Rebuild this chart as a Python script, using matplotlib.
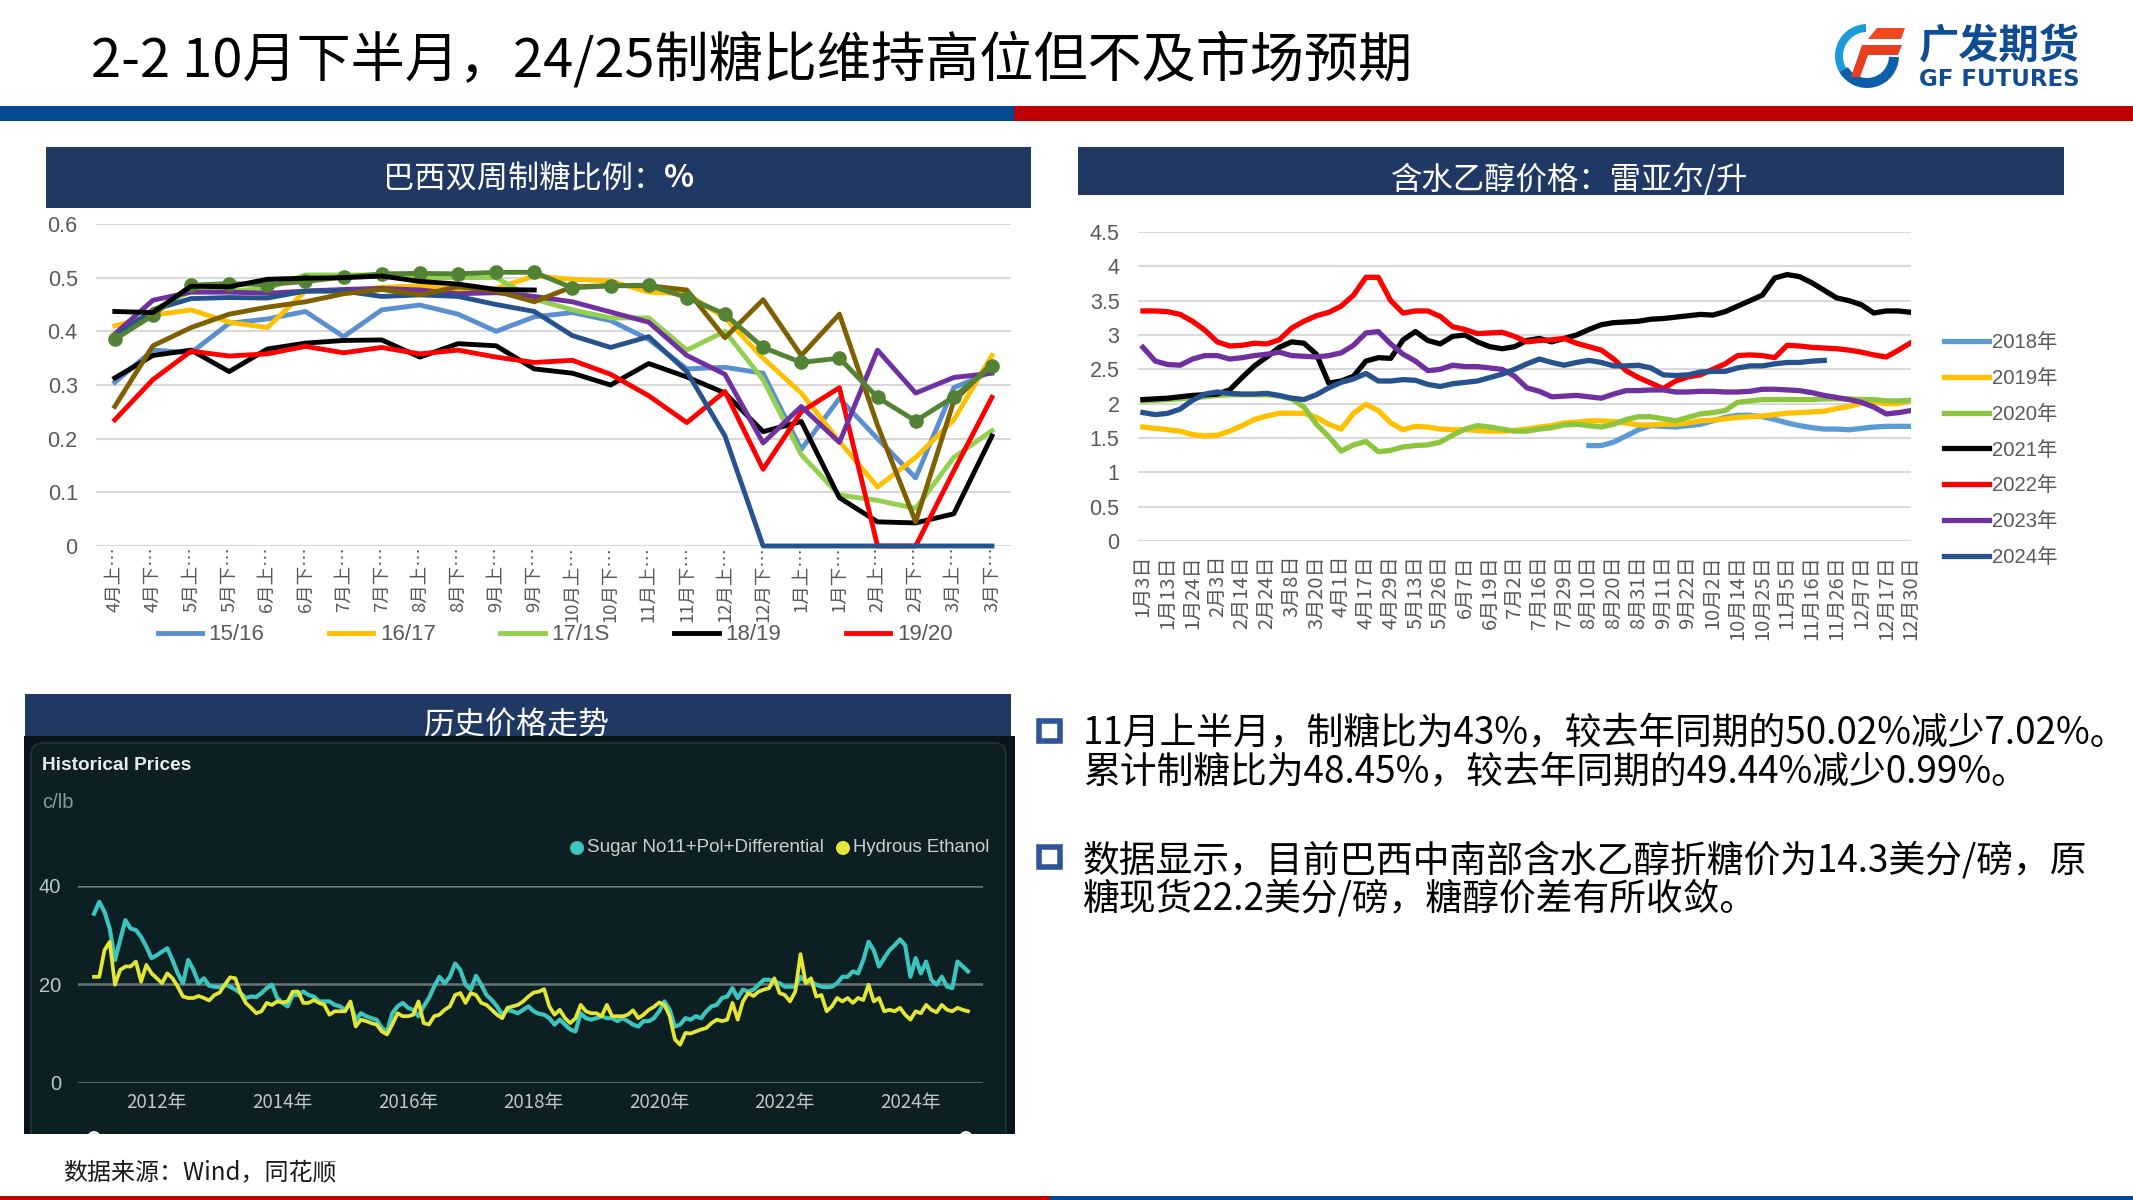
import numpy as np
import matplotlib
matplotlib.use('Agg')
import matplotlib.pyplot as plt
from matplotlib.patches import Rectangle, Wedge, Polygon, FancyBboxPatch, Circle

plt.rcParams['font.family'] = ['Noto Sans CJK SC', 'DejaVu Sans']

W, H = 2133, 1200
nan = float('nan')

# 巴西双周制糖比例
half_months = ['4月上…', '4月下…', '5月上…', '5月下…', '6月上…', '6月下…', '7月上…', '7月下…',
               '8月上…', '8月下…', '9月上…', '9月下…', '10月上…', '10月下…', '11月上…', '11月下…',
               '12月上…', '12月下…', '1月上…', '1月下…', '2月上…', '2月下…', '3月上…', '3月下…']
r1516 = [0.305, 0.365, 0.36, 0.415, 0.423, 0.437, 0.39, 0.44, 0.449, 0.432, 0.40, 0.427,
         0.435, 0.42, 0.385, 0.33, 0.333, 0.322, 0.18, 0.275, 0.20, 0.127, 0.295, 0.325]
r1617 = [0.41, 0.43, 0.44, 0.417, 0.407, 0.475, 0.475, 0.482, 0.485, 0.477, 0.48, 0.503,
         0.497, 0.494, 0.473, 0.47, 0.425, 0.35, 0.285, 0.195, 0.11, 0.165, 0.235, 0.355]
r1718 = [0.385, 0.44, 0.475, 0.475, 0.48, 0.505, 0.505, 0.505, 0.50, 0.50, 0.50, 0.46,
         0.44, 0.425, 0.425, 0.365, 0.40, 0.31, 0.17, 0.095, 0.085, 0.07, 0.165, 0.215]
r1819 = [0.313, 0.355, 0.365, 0.325, 0.367, 0.378, 0.383, 0.384, 0.352, 0.377, 0.373, 0.33,
         0.322, 0.30, 0.34, 0.315, 0.285, 0.213, 0.232, 0.09, 0.045, 0.043, 0.06, 0.205]
r1920 = [0.235, 0.31, 0.363, 0.354, 0.358, 0.372, 0.36, 0.37, 0.358, 0.365, 0.352, 0.342,
         0.346, 0.32, 0.28, 0.23, 0.288, 0.143, 0.25, 0.295, 0, 0, 0.14, 0.277]
r2021 = [0.395, 0.458, 0.473, 0.473, 0.471, 0.475, 0.478, 0.48, 0.477, 0.47, 0.472, 0.465,
         0.455, 0.436, 0.417, 0.355, 0.32, 0.192, 0.26, 0.193, 0.365, 0.285, 0.314, 0.322]
r2122 = [0.39, 0.44, 0.461, 0.463, 0.462, 0.475, 0.475, 0.465, 0.468, 0.465, 0.45, 0.437,
         0.392, 0.37, 0.39, 0.325, 0.205, 0, 0, 0, 0, 0, 0, 0]
r2223 = [0.26, 0.373, 0.407, 0.432, 0.445, 0.455, 0.47, 0.478, 0.468, 0.483, 0.475, 0.455,
         0.483, 0.485, 0.485, 0.477, 0.388, 0.459, 0.355, 0.432, 0.225, 0.045, 0.27, 0.34]
r2324 = [0.385, 0.43, 0.486, 0.489, 0.487, 0.493, 0.501, 0.507, 0.508, 0.507, 0.51, 0.51,
         0.481, 0.485, 0.486, 0.463, 0.432, 0.37, 0.342, 0.35, 0.277, 0.233, 0.278, 0.335]
r2425 = [0.437, 0.435, 0.484, 0.483, 0.497, 0.499, 0.5, 0.503, 0.493, 0.488, 0.478, 0.477]

# 含水乙醇价格
eth_labels = ['1月3日', '1月13日', '1月24日', '2月3日', '2月14日', '2月24日', '3月8日', '3月20日',
              '4月1日', '4月17日', '4月29日', '5月13日', '5月26日', '6月7日', '6月19日', '7月2日',
              '7月16日', '7月29日', '8月10日', '8月20日', '8月31日', '9月11日', '9月22日', '10月2日',
              '10月14日', '10月25日', '11月5日', '11月16日', '11月26日', '12月7日', '12月17日', '12月30日']
e2018 = [nan, nan, nan, nan, nan, nan, nan, nan, nan, nan,
         nan, nan, nan, nan, nan, nan, nan, nan, nan, nan,
         nan, nan, nan, nan, nan, nan, nan, nan, nan, nan,
         nan, nan, nan, nan, nan, nan, 1.39, 1.39, 1.44, 1.53,
         1.62, 1.68, 1.67, 1.66, 1.68, 1.7, 1.75, 1.8, 1.83, 1.83,
         1.81, 1.77, 1.72, 1.68, 1.65, 1.63, 1.63, 1.62, 1.64, 1.66,
         1.67, 1.67, 1.67]
e2019 = [1.66, 1.64, 1.62, 1.6, 1.55, 1.53, 1.54, 1.6, 1.68, 1.77,
         1.82, 1.86, 1.86, 1.86, 1.8, 1.7, 1.63, 1.86, 1.99, 1.9,
         1.72, 1.62, 1.67, 1.66, 1.63, 1.62, 1.62, 1.61, 1.6, 1.6,
         1.61, 1.63, 1.66, 1.68, 1.72, 1.73, 1.75, 1.75, 1.74, 1.72,
         1.69, 1.69, 1.7, 1.7, 1.72, 1.75, 1.76, 1.78, 1.8, 1.81,
         1.82, 1.84, 1.86, 1.87, 1.88, 1.89, 1.93, 1.96, 2.01, 2.02,
         2.0, 2.0, 2.05]
e2020 = [2.04, 2.05, 2.06, 2.07, 2.09, 2.1, 2.12, 2.13, 2.13, 2.13,
         2.13, 2.11, 2.07, 1.95, 1.7, 1.52, 1.31, 1.4, 1.45, 1.3,
         1.32, 1.37, 1.39, 1.4, 1.44, 1.54, 1.63, 1.68, 1.66, 1.63,
         1.6, 1.6, 1.63, 1.65, 1.69, 1.7, 1.68, 1.66, 1.7, 1.77,
         1.81, 1.81, 1.78, 1.75, 1.8, 1.85, 1.87, 1.9, 2.02, 2.04,
         2.06, 2.06, 2.06, 2.06, 2.06, 2.07, 2.07, 2.07, 2.06, 2.06,
         2.04, 2.04, 2.05]
e2021 = [2.06, 2.07, 2.08, 2.1, 2.12, 2.13, 2.14, 2.2, 2.38, 2.55,
         2.68, 2.82, 2.9, 2.88, 2.72, 2.3, 2.33, 2.4, 2.62, 2.67,
         2.66, 2.93, 3.05, 2.92, 2.87, 2.98, 3.0, 2.9, 2.83, 2.8,
         2.83, 2.92, 2.95, 2.9, 2.95, 3.0, 3.08, 3.15, 3.18, 3.19,
         3.2, 3.23, 3.24, 3.26, 3.28, 3.3, 3.29, 3.34, 3.42, 3.5,
         3.58, 3.83, 3.88, 3.85, 3.76, 3.65, 3.54, 3.5, 3.44, 3.32,
         3.35, 3.35, 3.33]
e2022 = [3.35, 3.35, 3.34, 3.3, 3.2, 3.07, 2.9, 2.84, 2.85, 2.88,
         2.87, 2.93, 3.1, 3.2, 3.28, 3.33, 3.42, 3.58, 3.84, 3.84,
         3.5, 3.32, 3.35, 3.35, 3.27, 3.12, 3.08, 3.02, 3.03, 3.04,
         2.98, 2.9, 2.92, 2.93, 2.95, 2.88, 2.83, 2.78, 2.65, 2.48,
         2.38, 2.3, 2.22, 2.33, 2.39, 2.42, 2.5, 2.58, 2.7, 2.71,
         2.7, 2.67, 2.85, 2.84, 2.82, 2.81, 2.8, 2.78, 2.75, 2.71,
         2.68, 2.78, 2.89]
e2023 = [2.82, 2.62, 2.57, 2.56, 2.65, 2.7, 2.7, 2.65, 2.67, 2.7,
         2.72, 2.75, 2.7, 2.69, 2.68, 2.7, 2.74, 2.85, 3.03, 3.05,
         2.87, 2.72, 2.62, 2.48, 2.5, 2.56, 2.54, 2.54, 2.52, 2.5,
         2.4, 2.23, 2.18, 2.1, 2.11, 2.12, 2.1, 2.08, 2.14, 2.19,
         2.19, 2.2, 2.2, 2.17, 2.17, 2.18, 2.18, 2.17, 2.17, 2.18,
         2.21, 2.21, 2.2, 2.19, 2.16, 2.12, 2.09, 2.06, 2.02, 1.95,
         1.85, 1.87, 1.9]
e2024 = [1.87, 1.84, 1.86, 1.92, 2.05, 2.14, 2.17, 2.15, 2.14, 2.14,
         2.15, 2.12, 2.08, 2.06, 2.13, 2.23, 2.31, 2.36, 2.44, 2.33,
         2.33, 2.35, 2.34, 2.28, 2.25, 2.29, 2.31, 2.33, 2.38, 2.43,
         2.5, 2.58, 2.65, 2.6, 2.56, 2.6, 2.63, 2.6, 2.55, 2.55,
         2.56, 2.52, 2.42, 2.41, 2.42, 2.46, 2.47, 2.47, 2.52, 2.55,
         2.55, 2.58, 2.6, 2.6, 2.62, 2.63, nan, nan, nan, nan,
         nan, nan, nan]

# 历史价格走势, 月度读数 2011-2024
sugar = [34.3, 36.7, 34.7, 31.3, 24.9, 29, 33, 31.3, 31, 29.6, 27.6, 25.3,
         25.9, 26.6, 27.3, 24.9, 22.2, 20.2, 24.9, 22.9, 20.2, 21.2, 19.7, 19.5,
         19.4, 19.9, 19.5, 18.9, 18.2, 17.2, 17.5, 17.4, 18.2, 19.2, 19.9, 17.2,
         16.2, 15.5, 17.8, 17.8, 18.5, 17.8, 17.5, 16.5, 16.5, 16.5, 15.8, 15.5,
         14.8, 16.2, 12.8, 14.1, 13.5, 13.1, 12.8, 11.1, 10.4, 14.1, 15.5, 16.2,
         15.2, 14.8, 13.5, 15.5, 17.2, 19.5, 21.5, 20.2, 21.5, 24.2, 22.9, 19.9,
         18.9, 21.7, 19.9, 17.8, 16.8, 15.5, 13.8, 14.8, 14.5, 14.1, 14.8, 15.5,
         14.5, 14.0, 13.8, 13.1, 11.8, 12.8, 11.8, 10.8, 10.4, 14.1, 13.1, 12.8,
         13.1, 13.5, 13.1, 13.1, 12.5, 13.1, 12.5, 11.8, 11.4, 12.5, 12.5, 13.1,
         14.5, 16.5, 14.8, 11.4, 11.8, 13.1, 12.8, 13.5, 13.1, 14.5, 15.5, 15.8,
         17.2, 17.5, 19.2, 17.2, 18.9, 18.5, 18.9, 19.9, 20.9, 20.9, 20.5, 20.2,
         19.5, 19.5, 19.5, 21.5, 20.5, 20.5, 19.9, 19.5, 19.4, 19.5, 20.2, 21.5,
         21.5, 22.6, 22.2, 24.9, 28.6, 26.9, 23.6, 25.3, 26.9, 27.9, 29.1, 27.9,
         21.5, 25.3, 22.2, 24.6, 20.9, 19.9, 21.5, 19.5, 19.2, 24.6, 23.6, 22.6]
ethanol = [21.5, 21.5, 26.9, 28.6, 19.9, 22.9, 23.6, 23.6, 24.6, 20.5, 23.9, 22.2,
           21.2, 20.2, 22.2, 21.2, 19.5, 17.5, 17.2, 17.2, 17.6, 17.2, 16.7, 17.8,
           18.3, 19.9, 21.4, 21.2, 18.2, 16.2, 15.2, 14.1, 14.5, 16.2, 15.8, 16.5,
           16.3, 16.5, 18.5, 18.5, 16.2, 16.2, 16.8, 16.2, 15.8, 13.8, 14.5, 14.5,
           14.5, 16.5, 11.4, 12.8, 12.5, 12.1, 11.8, 10.4, 9.8, 11.8, 14.1, 13.5,
           13.5, 13.8, 16.5, 12.1, 11.8, 13.5, 13.8, 14.8, 15.5, 17.8, 18.2, 16.2,
           18.2, 17.8, 16.2, 15.8, 14.8, 13.8, 13.1, 15.2, 15.5, 15.8, 16.5, 17.5,
           18.3, 18.5, 19, 15.5, 13.8, 14.8, 13.1, 12.1, 13.1, 15.8, 14.5, 14.1,
           14.1, 13.5, 15.8, 13.5, 13.5, 13.5, 13.8, 14.7, 13.1, 13.8, 14.8, 15.4,
           16.3, 15.8, 13.5, 8.8, 7.7, 10.1, 10, 10.4, 10.8, 11.1, 12.1, 12.8,
           12.5, 12.8, 16.2, 12.8, 16.5, 18.2, 17.6, 18.5, 18.9, 19.2, 21.2, 18.2,
           17.8, 16.5, 18.5, 26.1, 20.2, 21.2, 17.5, 17.8, 14.5, 15.5, 17.2, 16.5,
           17.2, 16.2, 17.2, 16.8, 19.9, 16.5, 17.2, 14.5, 14.8, 14.5, 15.2, 13.8,
           12.8, 14.5, 14.1, 15.8, 14.8, 14.3, 15.8, 14.8, 14.5, 15.2, 14.8, 14.5]
year_ticks = [2012, 2014, 2016, 2018, 2020, 2022, 2024]
year_labels = ['2012年', '2014年', '2016年', '2018年', '2020年', '2022年', '2024年']

bullets = [('11月上半月，制糖比为43%，较去年同期的50.02%减少7.02%。', 734),
           ('累计制糖比为48.45%，较去年同期的49.44%减少0.99%。', 773),
           ('数据显示，目前巴西中南部含水乙醇折糖价为14.3美分/磅，原', 861),
           ('糖现货22.2美分/磅，糖醇价差有所收敛。', 899)]

NAVY = '#1F3864'
GREY = '#595959'
GRID = '#D9D9D9'
LATIN = ['Liberation Sans', 'Noto Sans CJK SC']


def px_axes(x0, y0, x1, y1):
    return fig.add_axes([x0 / W, 1 - y1 / H, (x1 - x0) / W, (y1 - y0) / H])


fig = plt.figure(figsize=(W / 100, H / 100), dpi=100, facecolor='white')

# 整页底层, 用像素坐标
bg = fig.add_axes([0, 0, 1, 1], zorder=0)
bg.set_xlim(0, W)
bg.set_ylim(H, 0)
bg.axis('off')

bg.add_patch(Rectangle((0, 106), 1014, 15, fc='#004A94', ec='none'))
bg.add_patch(Rectangle((1014, 106), W - 1014, 15, fc='#C00000', ec='none'))
bg.add_patch(Rectangle((0, 1196), 1050, 4, fc='#C00000', ec='none'))
bg.add_patch(Rectangle((1050, 1196), W - 1050, 4, fc='#004A94', ec='none'))
bg.text(91, 60, '2-2 10月下半月，24/25制糖比维持高位但不及市场预期', fontsize=39, color='black',
        ha='left', va='center')

# logo
bg.add_patch(Wedge((1867, 56), 32, 150, 268, width=8, fc='#1A9AD8', ec='none'))
bg.add_patch(Wedge((1867, 56), 32, 2, 150, width=10, fc='#0C5FA8', ec='none'))
bg.add_patch(Polygon([(1877, 28), (1905, 28), (1901, 39), (1868, 39)], fc='#F0481E', ec='none'))
bg.add_patch(Polygon([(1862, 45), (1902, 45), (1898, 55), (1868, 55), (1860, 77), (1851, 77)],
                     fc='#E8401C', ec='none'))
bg.text(1999, 47, '广发期货', fontsize=29, fontweight='bold', color='#0F4C92', ha='center', va='center')
bg.text(1999, 79, 'GF FUTURES', fontsize=16.5, fontweight='bold', color='#0F4C92', ha='center', va='center',
        family=['DejaVu Sans'])

# 标题条
bg.add_patch(Rectangle((46, 147), 985, 61, fc=NAVY, ec='none'))
bg.text(664, 179, '巴西双周制糖比例：', fontsize=22.5, color='white', ha='right', va='center')
bg.text(664, 178, '%', fontsize=22.5, fontweight='bold', color='white', ha='left', va='center')
bg.add_patch(Rectangle((1078, 147), 986, 48, fc=NAVY, ec='none'))
bg.text(1570, 180, '含水乙醇价格：雷亚尔/升', fontsize=22.6, color='white', ha='center', va='center')
bg.add_patch(Rectangle((25, 694), 986, 50, fc=NAVY, ec='none'))
bg.text(517, 725, '历史价格走势', fontsize=22.3, color='white', ha='center', va='center')

# 深色面板
outer = Rectangle((24, 736), 991, 398, fc='#071518', ec='none', zorder=3)
bg.add_patch(outer)
inner = FancyBboxPatch((31, 743), 975, 420, boxstyle='round,pad=0,rounding_size=12', fc='#0C2024',
                       ec='#22343A', lw=1.2, zorder=4)
bg.add_patch(inner)
inner.set_clip_path(outer)
for dot_x in (94, 966):
    dot = Circle((dot_x, 1138), 7, fc='#E8E8E8', ec='none', zorder=5)
    bg.add_patch(dot)
    dot.set_clip_path(outer)
bg.text(42, 766, 'Historical Prices', fontsize=13.7, fontweight='bold', color='#E8ECEC', ha='left', va='center',
        family=LATIN, zorder=6)
bg.text(42, 803, 'c/lb', fontsize=14.5, color='#8C9A9C', ha='left', va='center', family=LATIN, zorder=6)
bg.add_patch(Circle((577, 848), 7, fc='#3CC4BE', ec='none', zorder=6))
bg.text(587, 848, 'Sugar No11+Pol+Differential', fontsize=13.6, color='#C8D0D0', ha='left', va='center',
        family=LATIN, zorder=6)
bg.add_patch(Circle((843, 848), 7, fc='#E3E635', ec='none', zorder=6))
bg.text(853, 848, 'Hydrous Ethanol', fontsize=13.3, color='#C8D0D0', ha='left', va='center',
        family=LATIN, zorder=6)

# 右侧文字
for y_box in (718, 844):
    bg.add_patch(Rectangle((1039, y_box + 3), 21, 20, fc='white', ec='#2F5597', lw=4))
for line, y_line in bullets:
    bg.text(1083, y_line, line, fontsize=26.5, color='black', ha='left', va='center')
bg.text(63, 1172, '数据来源：Wind，同花顺', fontsize=17.3, color='#1a1a1a', ha='left', va='center')

# 左上: 制糖比
ax1 = px_axes(95.7, 224, 1011, 546)
ax1.patch.set_alpha(0)
x1 = np.arange(len(half_months))
ax1.plot(x1, r1516, color='#5B8FD0', lw=3.5, label='15/16', clip_on=False)
ax1.plot(x1, r1617, color='#FFC000', lw=3.5, label='16/17', clip_on=False)
ax1.plot(x1, r1718, color='#92D050', lw=3.5, label='17/1S', clip_on=False)
ax1.plot(x1, r1819, color='black', lw=3.5, label='18/19', clip_on=False)
ax1.plot(x1, r1920, color='#FF0000', lw=3.5, label='19/20', clip_on=False)
ax1.plot(x1, r2021, color='#7030A0', lw=3.5, clip_on=False)
ax1.plot(x1, r2122, color='#26538D', lw=3.5, clip_on=False)
ax1.plot(x1, r2223, color='#7F6000', lw=3.5, clip_on=False)
ax1.plot(x1, r2324, color='#548235', lw=3.5, marker='o', ms=9.5, clip_on=False)
ax1.plot(x1[:len(r2425)], r2425, color='black', lw=3.5, clip_on=False)
ax1.set_xlim(-0.5, 23.5)
ax1.set_ylim(0, 0.6)
ax1.set_yticks([0, 0.1, 0.2, 0.3, 0.4, 0.5, 0.6])
ax1.set_yticklabels(['0', '0.1', '0.2', '0.3', '0.4', '0.5', '0.6'], fontsize=15.5, color=GREY, family=LATIN)
ax1.set_xticks(x1)
ax1.set_xticklabels(half_months, rotation=90, fontsize=13.3, color=GREY)
ax1.tick_params(length=0, axis='y', pad=13)
ax1.tick_params(length=0, axis='x', pad=0)
ax1.grid(axis='y', color=GRID, lw=1.5)
ax1.set_axisbelow(True)
for s in ax1.spines.values():
    s.set_visible(False)
ax1.legend(loc='center', bbox_to_anchor=(555 / W, 1 - 635 / H), bbox_transform=fig.transFigure, ncol=5,
           frameon=False, handlelength=2, handletextpad=0.3, columnspacing=2.9,
           prop={'family': LATIN, 'size': 16}, labelcolor=GREY)

# 右上: 乙醇价格
ax2 = px_axes(1137.6, 232, 1911, 541)
ax2.patch.set_alpha(0)
x2 = np.arange(len(e2019))
ax2.plot(x2, e2018, color='#5B9BD5', lw=3.8, label='2018年')
ax2.plot(x2, e2019, color='#FFC000', lw=3.8, label='2019年')
ax2.plot(x2, e2020, color='#8CC63F', lw=3.8, label='2020年')
ax2.plot(x2, e2021, color='black', lw=3.8, label='2021年')
ax2.plot(x2, e2022, color='#FF0000', lw=3.8, label='2022年')
ax2.plot(x2, e2023, color='#7030A0', lw=3.8, label='2023年')
ax2.plot(x2, e2024, color='#26538D', lw=3.8, label='2024年')
ax2.set_xlim(-0.43, 62)
ax2.set_ylim(0, 4.5)
ax2.set_yticks(np.arange(0, 4.6, 0.5))
ax2.set_yticklabels(['0', '0.5', '1', '1.5', '2', '2.5', '3', '3.5', '4', '4.5'], fontsize=15.5, color=GREY,
                    family=LATIN)
ax2.set_xticks(x2[::2])
ax2.set_xticklabels(eth_labels, rotation=90, fontsize=14.5, color=GREY)
ax2.tick_params(length=0, axis='y', pad=13)
ax2.tick_params(length=0, axis='x', pad=10)
ax2.grid(axis='y', color=GRID, lw=1.5)
ax2.set_axisbelow(True)
for s in ax2.spines.values():
    s.set_visible(False)
ax2.legend(loc='center', bbox_to_anchor=(2001 / W, 1 - 450 / H), bbox_transform=fig.transFigure, ncol=1,
           frameon=False, handlelength=2.2, handletextpad=0.15, labelspacing=0.83,
           prop={'family': LATIN, 'size': 14.6}, labelcolor=GREY)

# 左下: 历史价格
ax3 = px_axes(78, 885.7, 983, 1082.7)
ax3.set_zorder(2)
ax3.patch.set_alpha(0)
x3 = 2011 + np.arange(len(sugar)) / 12
ax3.plot(x3, sugar, color='#3CC4BE', lw=3)
ax3.plot(x3, ethanol, color='#E3E635', lw=2.7)
ax3.set_xlim(2010.745, 2025.156)
ax3.set_ylim(0, 40)
ax3.set_yticks([0, 20, 40])
ax3.set_yticklabels(['0', '20', '40'], fontsize=14.5, color='#C0C6C6', family=LATIN)
ax3.set_xticks(year_ticks)
ax3.set_xticklabels(year_labels, fontsize=13.5, color='#C0C6C6')
ax3.tick_params(length=0, axis='y', pad=12)
ax3.tick_params(length=0, axis='x', pad=7)
ax3.grid(axis='y', color='#6A7678', lw=1.8)
ax3.set_axisbelow(True)
for s in ax3.spines.values():
    s.set_visible(False)

fig.savefig('out.png', dpi=100)
